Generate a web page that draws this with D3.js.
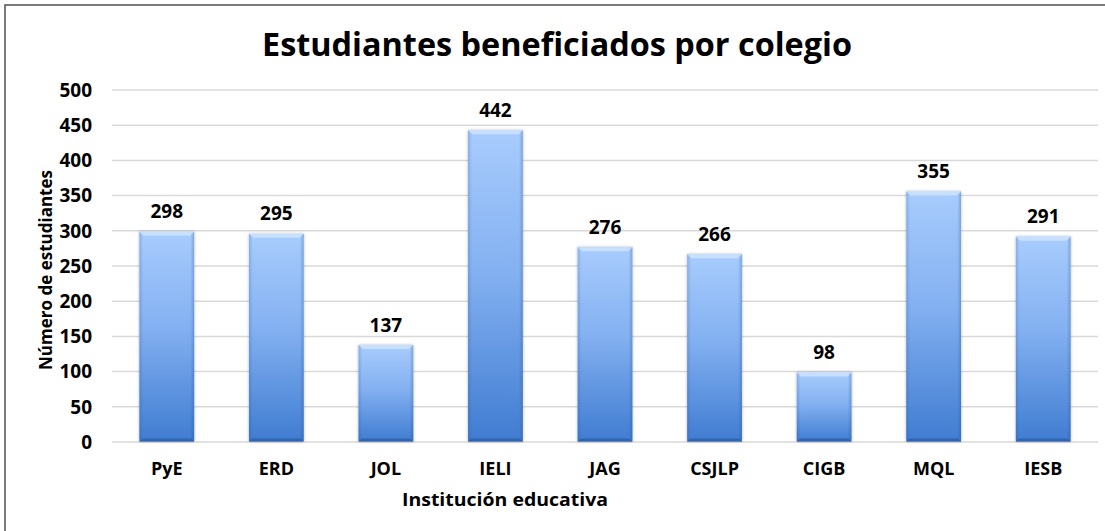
<!DOCTYPE html>
<html>
<head>
<meta charset="utf-8">
<script src="https://cdn.jsdelivr.net/npm/d3@7"></script>
<style>
  html, body { margin: 0; padding: 0; background: #fff; overflow: hidden; }
  text { font-family: 'Open Sans', 'DejaVu Sans', sans-serif; font-weight: bold; fill: #000; }
  .axis path { display: none; }
  .grid line { stroke: #d9d9d9; stroke-width: 1.5; }
  .grid text { font-size: 19px; }
</style>
</head>
<body>
<div id="chart"></div>
<script>
'use strict';

var categories = ['PyE', 'ERD', 'JOL', 'IELI', 'JAG', 'CSJLP', 'CIGB', 'MQL', 'IESB'];
var values     = [298, 295, 137, 442, 276, 266, 98, 355, 291];
var yTicks     = [0, 50, 100, 150, 200, 250, 300, 350, 400, 450, 500];

var chartTitle = 'Estudiantes beneficiados por colegio';
var labelX     = 'Institución educativa';
var labelY     = 'Número de estudiantes';

function barChart()
{
    var scope = this;
    var exports = {};

    scope.margins = { top: 89.5, left: 112 };
    scope.cw = 986;
    scope.ch = 352;
    scope.xScale = undefined;
    scope.yScale = undefined;

    scope.appendSvg = function(div)
    {
        return d3.select(div).append('svg')
            .attr('width', 1105)
            .attr('height', 531);
    }

    scope.appendDefs = function(svg)
    {
        var defs = svg.append('defs');

        var grad = defs.append('linearGradient')
            .attr('id', 'barFill')
            .attr('x1', 0).attr('y1', 0).attr('x2', 0).attr('y2', 1);
        grad.append('stop').attr('offset', '0%').attr('stop-color', '#a8ccfd');
        grad.append('stop').attr('offset', '45%').attr('stop-color', '#84b1f1');
        grad.append('stop').attr('offset', '100%').attr('stop-color', '#407cd1');

        var side = defs.append('linearGradient')
            .attr('id', 'barSide')
            .attr('x1', 0).attr('y1', 0).attr('x2', 1).attr('y2', 0);
        side.append('stop').attr('offset', '0%').attr('stop-color', '#1f4f96').attr('stop-opacity', 0.22);
        side.append('stop').attr('offset', '7%').attr('stop-color', '#1f4f96').attr('stop-opacity', 0);
        side.append('stop').attr('offset', '93%').attr('stop-color', '#1f4f96').attr('stop-opacity', 0);
        side.append('stop').attr('offset', '100%').attr('stop-color', '#1f4f96').attr('stop-opacity', 0.3);

        var shadow = defs.append('filter')
            .attr('id', 'barShadow')
            .attr('x', '-20%').attr('y', '-10%').attr('width', '140%').attr('height', '120%');
        shadow.append('feDropShadow')
            .attr('dx', 0).attr('dy', 0)
            .attr('stdDeviation', 1.6)
            .attr('flood-color', '#000')
            .attr('flood-opacity', 0.3);
    }

    scope.createScales = function()
    {
        scope.xScale = d3.scaleBand()
            .domain(categories)
            .range([scope.margins.left, scope.margins.left + scope.cw])
            .paddingInner(0.5)
            .paddingOuter(0.25);

        scope.yScale = d3.scaleLinear()
            .domain([0, 500])
            .range([scope.margins.top + scope.ch, scope.margins.top]);
    }

    scope.createAxes = function(svg)
    {
        var grid = svg.append('g')
            .attr('class', 'axis grid')
            .attr('transform', 'translate(' + scope.margins.left + ',0)')
            .call(d3.axisLeft(scope.yScale)
                .tickValues(yTicks)
                .tickSize(-scope.cw)
                .tickPadding(20));

        grid.selectAll('text').attr('dy', '0.36em');

        var xAxis = svg.append('g')
            .attr('class', 'axis')
            .attr('transform', 'translate(0,' + (scope.margins.top + scope.ch) + ')')
            .call(d3.axisBottom(scope.xScale).tickSize(0).tickPadding(0));

        xAxis.selectAll('text')
            .attr('y', 33.5)
            .attr('dy', 0)
            .style('font-size', '18px');
    }

    scope.appendBars = function(svg)
    {
        var y0 = scope.yScale(0);
        var bw = scope.xScale.bandwidth();

        var bar = svg.append('g').selectAll('.bar')
            .data(values)
            .enter().append('g')
            .attr('class', 'bar')
            .attr('transform', function(d, i) { return 'translate(' + scope.xScale(categories[i]) + ',0)'; });

        bar.append('rect')
            .attr('y', function(d) { return scope.yScale(d); })
            .attr('width', bw)
            .attr('height', function(d) { return y0 - scope.yScale(d); })
            .attr('fill', 'url(#barFill)')
            .attr('filter', 'url(#barShadow)');

        // bevel: sides, top highlight, dark bottom edge
        bar.append('rect')
            .attr('y', function(d) { return scope.yScale(d); })
            .attr('width', bw)
            .attr('height', function(d) { return y0 - scope.yScale(d); })
            .attr('fill', 'url(#barSide)');

        bar.append('path')
            .attr('d', function(d) {
                var t = scope.yScale(d);
                return 'M0,' + t + 'H' + bw + 'L' + (bw - 4) + ',' + (t + 4) + 'H4Z';
            })
            .attr('fill', '#d6e8ff')
            .attr('opacity', 0.7);

        bar.append('path')
            .attr('d', 'M0,' + y0 + 'H' + bw + 'L' + (bw - 3) + ',' + (y0 - 3) + 'H3Z')
            .attr('fill', '#2d5fa8')
            .attr('opacity', 0.8);

        bar.append('text')
            .attr('x', bw / 2)
            .attr('y', function(d) { return scope.yScale(d) - 13.5; })
            .attr('text-anchor', 'middle')
            .style('font-size', '19px')
            .text(function(d) { return d; });
    }

    scope.createLabels = function(svg)
    {
        svg.append('text')
            .attr('x', 557)
            .attr('y', 56)
            .attr('text-anchor', 'middle')
            .attr('textLength', 590)
            .attr('lengthAdjust', 'spacingAndGlyphs')
            .style('font-size', '32px')
            .text(chartTitle);

        svg.append('text')
            .attr('x', 505)
            .attr('y', 506)
            .attr('text-anchor', 'middle')
            .attr('textLength', 206)
            .attr('lengthAdjust', 'spacingAndGlyphs')
            .style('font-size', '18px')
            .text(labelX);

        svg.append('text')
            .attr('transform', 'translate(52,' + 270 + ') rotate(-90)')
            .attr('text-anchor', 'middle')
            .attr('textLength', 200)
            .attr('lengthAdjust', 'spacingAndGlyphs')
            .style('font-size', '18px')
            .text(labelY);
    }

    scope.appendFrame = function(svg)
    {
        svg.append('rect')
            .attr('x', 5)
            .attr('y', 5)
            .attr('width', 1110)
            .attr('height', 540)
            .attr('fill', 'none')
            .attr('stroke', '#5a5a5a')
            .attr('stroke-width', 1.6);
    }

    //------------- exported API -----------------------------------

    exports.run = function(div)
    {
        var svg = scope.appendSvg(div);
        scope.appendDefs(svg);
        scope.createScales();
        scope.createAxes(svg);
        scope.appendBars(svg);
        scope.createLabels(svg);
        scope.appendFrame(svg);
    }

    return exports;
}

var chart = new barChart();
chart.run('#chart');
</script>
</body>
</html>
